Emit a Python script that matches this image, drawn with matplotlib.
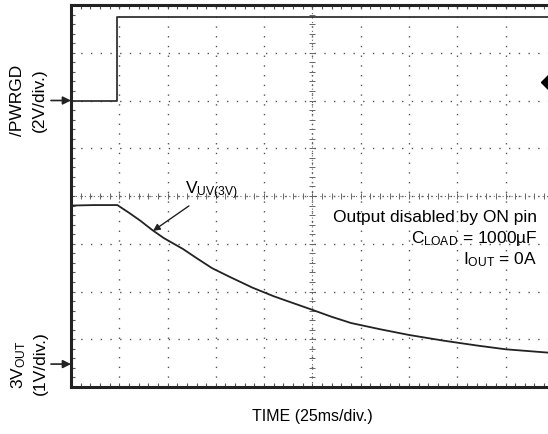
import numpy as np
import matplotlib
matplotlib.use("Agg")
import matplotlib.pyplot as plt
from matplotlib.ticker import MultipleLocator, NullFormatter

plt.rcParams['font.family'] = ['Liberation Sans', 'DejaVu Sans']
plt.rcParams['mathtext.fontset'] = 'custom'
plt.rcParams['mathtext.rm'] = 'Liberation Sans'
plt.rcParams['mathtext.it'] = 'Liberation Sans'

# scope settings
ms_per_div = 25
pwrgd_v_per_div = 2
vout_v_per_div = 1
pwrgd_zero_div = 6.0
vout_zero_div = 0.48
trigger_level_div = 6.39
t_end = 247

# /PWRGD trace (ms, V)
pwrgd_t = [0, 24, 247]
pwrgd_v = [0, 3.5, 3.5]

# 3V OUT trace (ms, V)
vout_t = [0, 12, 24, 30, 36, 42, 48, 58, 65, 73, 82, 94, 105, 112, 124,
          135, 145, 160, 175, 193, 210, 225, 247]
vout_v = [3.32, 3.33, 3.33, 3.17, 3.00, 2.81, 2.64, 2.41, 2.22, 2.01,
          1.83, 1.60, 1.42, 1.32, 1.15, 0.99, 0.86, 0.73, 0.61, 0.49, 0.39,
          0.31, 0.24]

fig = plt.figure(figsize=(5.48, 4.34), dpi=100)
ax = fig.add_axes([71 / 548, 47 / 434, 477 / 548, 382 / 434])

ax.set_xlim(0, t_end)
ax.set_ylim(0, 8)
ax.xaxis.set_major_locator(MultipleLocator(ms_per_div))
ax.xaxis.set_minor_locator(MultipleLocator(ms_per_div / 5))
ax.yaxis.set_major_locator(MultipleLocator(1))
ax.yaxis.set_minor_locator(MultipleLocator(0.2))
ax.xaxis.set_major_formatter(NullFormatter())
ax.yaxis.set_major_formatter(NullFormatter())
ax.tick_params(which='both', direction='in', top=True, right=False, length=3, width=0.8, color='#555')

for s in ['left', 'bottom', 'top']:
    ax.spines[s].set_linewidth(2.2)
    ax.spines[s].set_color('#222')
ax.spines['right'].set_visible(False)

ax.grid(True, which='major', color='#555', linestyle=(0, (1, 6)), linewidth=1)

# center cross with small ticks
ax.axhline(4, color='#666', linestyle=(0, (1, 3)), linewidth=0.8)
ax.axvline(5 * ms_per_div, color='#666', linestyle=(0, (1, 3)), linewidth=0.8)
cx = np.arange(0, t_end, ms_per_div / 5)
cy = np.arange(0, 8, 0.2)
ax.plot(cx, np.full(len(cx), 4), linestyle='none', marker='|', ms=4, mew=0.7, color='#666')
ax.plot(np.full(len(cy), 5 * ms_per_div), cy, linestyle='none', marker='_', ms=4, mew=0.7, color='#666')

ax.plot(pwrgd_t, pwrgd_zero_div + np.array(pwrgd_v) / pwrgd_v_per_div,
        drawstyle='steps-post', color='#333', lw=1.3)
ax.plot(vout_t, vout_zero_div + np.array(vout_v) / vout_v_per_div, color='#222', lw=1.3)

# trigger marker on right edge
ax.plot([t_end], [trigger_level_div], marker='D', ms=7, color='black', clip_on=False)

# ground markers
for y0 in [pwrgd_zero_div, vout_zero_div]:
    ax.annotate('', xy=(0, y0), xycoords=('axes fraction', 'data'),
                xytext=(-20, 0), textcoords='offset pixels',
                arrowprops=dict(arrowstyle='-|>', color='#222', lw=1.2, mutation_scale=12,
                                shrinkA=0, shrinkB=0),
                annotation_clip=False)

ax.annotate(r'V$_{\mathrm{UV(3V)}}$', xy=(42.5, 3.27), xytext=(59, 4.12),
            fontsize=12.5, va='center', ha='left',
            arrowprops=dict(arrowstyle='-|>', color='#222', lw=1.0, mutation_scale=10,
                            shrinkA=2, shrinkB=0))

ax.text(241.5, 3.54, 'Output disabled by ON pin', ha='right', va='center', fontsize=12.5)
ax.text(241.5, 3.10, r'C$_{\mathrm{LOAD}}$ = 1000µF', ha='right', va='center', fontsize=12.5)
ax.text(241.5, 2.66, r'I$_{\mathrm{OUT}}$ = 0A', ha='right', va='center', fontsize=12.5)

fig.text(18 / 548, 1 - 100 / 434, '/PWRGD', rotation=90, ha='center', va='center', fontsize=12.5)
fig.text(39 / 548, 1 - 100 / 434, '(2V/div.)', rotation=90, ha='center', va='center', fontsize=12.5)
fig.text(19 / 548, 1 - 365 / 434, r'3V$_{\mathrm{OUT}}$', rotation=90, ha='center', va='center', fontsize=12.5)
fig.text(40 / 548, 1 - 363 / 434, '(1V/div.)', rotation=90, ha='center', va='center', fontsize=12.5)

fig.text(312 / 548, 1 - 416 / 434, 'TIME (25ms/div.)', ha='center', va='center', fontsize=11.5)

fig.savefig('out.png', dpi=100)
